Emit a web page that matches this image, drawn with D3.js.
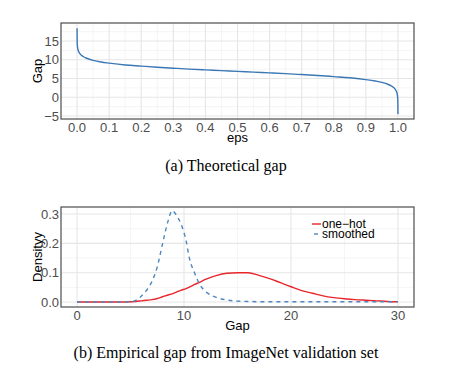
<!DOCTYPE html>
<html>
<head>
<meta charset="utf-8">
<script src="https://cdn.jsdelivr.net/npm/d3@7"></script>
<style>
  body { margin: 0; background: #fff; }
  svg { display: block; }
  .tick-label { font-family: "Liberation Sans", Arial, sans-serif; font-size: 13px; fill: #4d4d4d; }
  .axis-title { font-family: "Liberation Sans", Arial, sans-serif; font-size: 13px; fill: #000; }
  .caption { font-family: "Liberation Serif", "Times New Roman", serif; font-size: 16px; fill: #000; }
  .legend { font-family: "Liberation Sans", Arial, sans-serif; font-size: 12px; fill: #000; }
</style>
</head>
<body>
<svg width="450" height="373"></svg>
<script>
// top panel: theoretical gap vs eps
var epsValues = [0.0, 0.0005, 0.001, 0.002, 0.005, 0.01, 0.02, 0.03, 0.05, 0.075, 0.1, 0.15, 0.2, 0.25, 0.3, 0.35, 0.4, 0.45, 0.5, 0.55, 0.6, 0.65, 0.7, 0.75, 0.8, 0.85, 0.9, 0.925, 0.95, 0.97, 0.98, 0.99, 0.995, 0.998, 0.999, 0.9995, 1.0];
var gapValues = [18.4, 14.5, 13.8, 13.1, 12.2, 11.5, 10.8, 10.4, 9.85, 9.4, 9.1, 8.6, 8.3, 8.0, 7.75, 7.5, 7.3, 7.1, 6.9, 6.7, 6.5, 6.3, 6.05, 5.8, 5.5, 5.2, 4.7, 4.4, 3.95, 3.4, 3.0, 2.3, 1.6, 0.7, 0.0, -0.7, -4.5];
var epsTicks = [0.0, 0.1, 0.2, 0.3, 0.4, 0.5, 0.6, 0.7, 0.8, 0.9, 1.0];
var gapTicks = [-5, 0, 5, 10, 15];

// bottom panel: density of empirical gap
var gapGrid = [0, 1, 2, 3, 4, 5, 5.5, 6, 6.5, 7, 7.5, 8, 8.5, 8.9, 9.3, 9.7, 10.2, 10.5, 11, 11.5, 12, 12.5, 13, 14, 15, 16, 17, 18, 19, 20, 21, 22, 23, 24, 25, 26, 27, 28, 29, 30];
var oneHot = [0, 0, 0, 0, 0, 0.001, 0.002, 0.004, 0.006, 0.008, 0.012, 0.018, 0.024, 0.028, 0.034, 0.04, 0.046, 0.051, 0.06, 0.068, 0.077, 0.084, 0.09, 0.098, 0.1, 0.1, 0.091, 0.08, 0.066, 0.052, 0.039, 0.03, 0.021, 0.015, 0.011, 0.008, 0.006, 0.004, 0.002, 0.001];
var smoothed = [0, 0, 0, 0, 0, 0.001, 0.006, 0.02, 0.04, 0.07, 0.12, 0.2, 0.275, 0.312, 0.295, 0.268, 0.208, 0.15, 0.098, 0.058, 0.036, 0.024, 0.016, 0.007, 0.003, 0.002, 0.001, 0.001, 0.001, 0.001, 0.001, 0.001, 0.001, 0.001, 0.001, 0.001, 0.001, 0.001, 0.001, 0.001];
var densTicks = [0.0, 0.1, 0.2, 0.3];
var xGapTicks = [0, 10, 20, 30];
var seriesNames = ["one\u2212hot", "smoothed"];

var svg = d3.select("svg");
var left = 61, right = 414;

function fmtMinus(v, digits) {
    var s = digits ? v.toFixed(digits) : String(v);
    return s.replace("-", "\u2212");
}

function drawPanel(opts) {
    var x = d3.scaleLinear().domain(opts.xDomain).range([left, right]);
    var y = d3.scaleLinear().domain(opts.yDomain).range([opts.bottom, opts.top]);
    var g = svg.append("g");

    // minor grid
    var xt = opts.xTicks, yt = opts.yTicks;
    var xMinor = [], yMinor = [];
    for (var i = 0; i < xt.length - 1; i++) xMinor.push((xt[i] + xt[i + 1]) / 2);
    for (var j = 0; j < yt.length - 1; j++) yMinor.push((yt[j] + yt[j + 1]) / 2);
    var xs = xt[1] - xt[0], ys = yt[1] - yt[0];
    [xt[0] - xs / 2, xt[xt.length - 1] + xs / 2].forEach(function (v) {
        if (v > opts.xDomain[0] && v < opts.xDomain[1]) xMinor.push(v);
    });
    [yt[0] - ys / 2, yt[yt.length - 1] + ys / 2].forEach(function (v) {
        if (v > opts.yDomain[0] && v < opts.yDomain[1]) yMinor.push(v);
    });
    g.selectAll(".xminor").data(xMinor).enter().append("line")
        .attr("x1", function (d) { return x(d); }).attr("x2", function (d) { return x(d); })
        .attr("y1", opts.top).attr("y2", opts.bottom)
        .attr("stroke", "#f2f2f2").attr("stroke-width", 0.8);
    g.selectAll(".yminor").data(yMinor).enter().append("line")
        .attr("y1", function (d) { return y(d); }).attr("y2", function (d) { return y(d); })
        .attr("x1", left).attr("x2", right)
        .attr("stroke", "#f2f2f2").attr("stroke-width", 0.8);
    // major grid
    g.selectAll(".xmajor").data(xt).enter().append("line")
        .attr("x1", function (d) { return x(d); }).attr("x2", function (d) { return x(d); })
        .attr("y1", opts.top).attr("y2", opts.bottom)
        .attr("stroke", "#e6e6e6").attr("stroke-width", 1.1);
    g.selectAll(".ymajor").data(yt).enter().append("line")
        .attr("y1", function (d) { return y(d); }).attr("y2", function (d) { return y(d); })
        .attr("x1", left).attr("x2", right)
        .attr("stroke", "#e6e6e6").attr("stroke-width", 1.1);

    // tick labels
    g.selectAll(".xl").data(xt).enter().append("text")
        .attr("class", "tick-label")
        .attr("x", function (d) { return x(d); })
        .attr("y", opts.bottom + 13)
        .attr("text-anchor", "middle")
        .text(function (d) { return fmtMinus(d, opts.xDigits); });
    g.selectAll(".yl").data(yt).enter().append("text")
        .attr("class", "tick-label")
        .attr("x", left - 2)
        .attr("y", function (d) { return y(d); })
        .attr("dy", "0.36em")
        .attr("text-anchor", "end")
        .text(function (d) { return fmtMinus(d, opts.yDigits); });

    // axis titles
    g.append("text").attr("class", "axis-title")
        .attr("x", (left + right) / 2).attr("y", opts.bottom + 23)
        .attr("text-anchor", "middle").text(opts.xTitle);
    g.append("text").attr("class", "axis-title")
        .attr("transform", "translate(" + 42 + "," + ((opts.top + opts.bottom) / 2) + ") rotate(-90)")
        .attr("text-anchor", "middle").text(opts.yTitle);

    return { g: g, x: x, y: y };
}

function drawBorder(p, top, bottom) {
    p.g.append("rect")
        .attr("x", left).attr("y", top)
        .attr("width", right - left).attr("height", bottom - top)
        .attr("fill", "none").attr("stroke", "#4d4d4d").attr("stroke-width", 1.2);
}

// ---- panel (a)
var pa = drawPanel({
    xDomain: [-0.05, 1.05], yDomain: [-5.8, 19.8],
    top: 23, bottom: 119,
    xTicks: epsTicks, yTicks: gapTicks, xDigits: 1, yDigits: 0,
    xTitle: "eps", yTitle: "Gap"
});
var lineA = d3.line()
    .x(function (d, i) { return pa.x(epsValues[i]); })
    .y(function (d, i) { return pa.y(gapValues[i]); })
    .curve(d3.curveMonotoneX);
pa.g.append("path")
    .attr("d", lineA(epsValues))
    .attr("fill", "none").attr("stroke", "#3a78b5").attr("stroke-width", 1.4);
drawBorder(pa, 23, 119);

svg.append("text").attr("class", "caption")
    .attr("x", 226).attr("y", 171).attr("text-anchor", "middle")
    .text("(a) Theoretical gap");

// ---- panel (b)
var pb = drawPanel({
    xDomain: [-1.5, 31.5], yDomain: [-0.017, 0.324],
    top: 207, bottom: 307,
    xTicks: xGapTicks, yTicks: densTicks, xDigits: 0, yDigits: 1,
    xTitle: "Gap", yTitle: "Densityy"
});
var lineB = function (vals) {
    return d3.line()
        .x(function (d, i) { return pb.x(gapGrid[i]); })
        .y(function (d) { return pb.y(d); })
        .curve(d3.curveMonotoneX)(vals);
};
pb.g.append("path")
    .attr("d", lineB(oneHot))
    .attr("fill", "none").attr("stroke", "#e8262b").attr("stroke-width", 1.4);
pb.g.append("path")
    .attr("d", lineB(smoothed))
    .attr("fill", "none").attr("stroke", "#4f86c0").attr("stroke-width", 1.4)
    .attr("stroke-dasharray", "4,4");
drawBorder(pb, 207, 307);

// legend
var legend = svg.append("g");
var legendColors = ["#e8262b", "#4f86c0"];
seriesNames.forEach(function (name, i) {
    var yy = 224 + i * 10;
    legend.append("line")
        .attr("x1", i === 0 ? 312 : 314).attr("x2", i === 0 ? 321 : 318)
        .attr("y1", yy).attr("y2", yy)
        .attr("stroke", legendColors[i]).attr("stroke-width", 1.4);
    legend.append("text").attr("class", "legend")
        .attr("x", 322).attr("y", yy).attr("dy", "0.36em")
        .text(name);
});

svg.append("text").attr("class", "caption")
    .attr("x", 226).attr("y", 358).attr("text-anchor", "middle")
    .text("(b) Empirical gap from ImageNet validation set");
</script>
</body>
</html>
